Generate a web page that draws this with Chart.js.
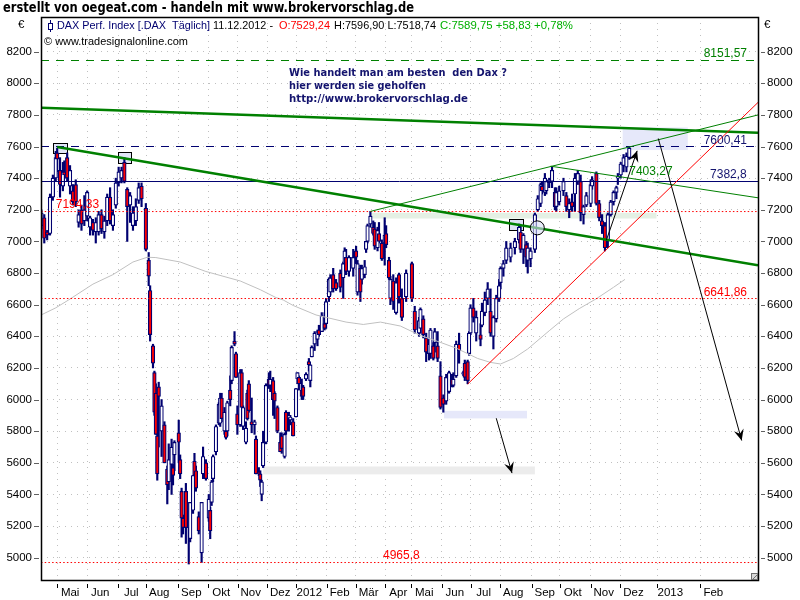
<!DOCTYPE html>
<html>
<head>
<meta charset="utf-8">
<title>DAX Perf. Index</title>
<script src="https://cdn.jsdelivr.net/npm/chart.js@4/dist/chart.umd.min.js"></script>
<style>
  body { margin: 0; background: #fff; }
  canvas { display: block; }
</style>
</head>
<body>
<canvas id="myChart" width="800" height="600"></canvas>
<script>
// tick labels
const monthDays = [11, 32, 53.7, 73.3, 95.7, 116.6, 137.2, 157.9, 178.2, 199.4, 219.7, 240.4, 258.6, 279.9, 300.1, 320.8, 342.8, 362.4, 384, 404.8, 430.6, 460.7];
const monthNames = ['Mai', 'Jun', 'Jul', 'Aug', 'Sep', 'Okt', 'Nov', 'Dez', '2012', 'Feb', 'Mär', 'Apr', 'Mai', 'Jun', 'Jul', 'Aug', 'Sep', 'Okt', 'Nov', 'Dez', '2013', 'Feb'];
const priceTicks = [5000, 5200, 5400, 5600, 5800, 6000, 6200, 6400, 6600, 6800, 7000, 7200, 7400, 7600, 7800, 8000, 8200];

// candles (day = trading day counted from the left edge)
const days = [
  0,2,4,6,8,10,11,13,15,16,
  18,20,22,24,26,28,30,32,34,36,
  38,40,42,44,46,48,50,52,54,56,
  58,60,62,64,66,68,70,73,75,76,
  78,79,80,81,82,84,86,88,89,91,
  92,93,96,97,98,99,101,103,104,106,
  107,108,110,112,113,115,117,118,119,120,
  122,124,125,126,128,129,130,132,133,135,
  136,137,139,140,141,143,144,145,147,149,
  150,152,153,154,155,157,159,160,162,163,
  165,167,168,170,171,173,174,176,178,179,
  180,182,183,185,187,188,189,191,193,194,
  196,198,199,201,202,204,206,209,211,212,
  213,215,218,220,221,223,224,226,227,228,
  230,232,233,235,236,238,240,241,243,244,
  246,248,250,252,255,259,261,264,265,267,
  269,271,272,274,275,277,279,281,283,285,
  287,288,290,292,295,296,298,299,300,302,
  304,307,308,310,312,314,316,318,320,321,
  323,325,328,331,334,335,337,339,340,342,
  345,347,349,350,352,353,355,357,359,360,
  362,365,367,369,371,373,375,377,379,381,
  384,385,388,390,392,394,396,398,400,402,
  403,405,407,409,411
];
const opens = [
  7100,7150,7060,7050,7280,7400,7560,7450,7350,7440,
  7530,7350,7320,7360,7120,7200,7130,7160,7090,7120,
  7060,7060,7170,7060,7130,7280,7100,7230,7370,7400,
  7500,7330,7230,7100,7130,7260,7350,7210,6880,6690,
  6340,6170,6040,5770,6080,5800,5840,5560,5480,5590,
  5570,5650,5790,5620,5420,5250,5420,5080,5120,5300,
  5610,5550,5260,5030,5530,5600,5250,5300,5350,5500,
  5670,5850,5850,6010,5800,5800,5800,6060,6120,6370,
  6290,5910,5840,6170,5830,5730,6040,6100,5860,5840,
  5750,5540,5530,5400,5580,5730,6130,6090,6120,6040,
  5950,5730,5770,5640,5920,5880,5870,5860,5890,6130,
  6140,6060,6080,6130,6240,6120,6270,6350,6380,6440,
  6430,6480,6480,6650,6680,6790,6740,6800,6770,6860,
  6900,6810,6830,6940,6680,6830,6760,6790,6950,7000,
  7110,7090,7080,6960,7050,6990,6990,7050,6880,6640,
  6750,6550,6790,6640,6650,6860,6560,6420,6450,6510,
  6390,6290,6290,6340,6360,6340,6150,6010,5990,6050,
  6130,6090,6150,6350,6160,6230,6240,6290,6420,6580,
  6420,6410,6470,6550,6640,6560,6400,6510,6640,6740,
  6830,6880,6900,6960,7010,7060,6950,6980,6880,6890,
  6950,7200,7240,7350,7310,7320,7370,7380,7310,7220,
  7250,7320,7290,7200,7250,7300,7380,7380,7170,7230,
  7240,7350,7430,7240,7130,7100,7010,7170,7250,7310,
  7400,7420,7480,7470,7530
];
const highs = [
  7200,7170,7070,7300,7420,7570,7590,7530,7500,7510,
  7560,7480,7360,7390,7200,7230,7290,7320,7160,7140,
  7150,7190,7200,7160,7300,7340,7200,7400,7470,7470,
  7530,7340,7310,7220,7270,7370,7370,7240,6930,6720,
  6350,6180,6100,5790,6110,6000,5860,5580,5720,5750,
  5590,5740,5870,5650,5440,5270,5470,5190,5350,5520,
  5660,5580,5290,5350,5700,5620,5400,5320,5490,5650,
  5840,5980,6040,6040,5950,5820,5990,6150,6340,6430,
  6300,5960,6190,6190,5960,5860,6060,6120,6010,5870,
  5770,5570,5550,5490,5800,6100,6170,6180,6140,6050,
  5960,5790,5790,5790,5930,5920,5900,5880,6070,6170,
  6150,6130,6090,6170,6260,6220,6340,6430,6440,6470,
  6550,6550,6640,6770,6790,6830,6760,6820,6870,6960,
  6950,6910,6950,6970,6880,6850,6850,6880,7000,7110,
  7190,7130,7120,7090,7120,7010,7150,7100,6900,6780,
  6790,6770,6800,6700,6820,6870,6590,6520,6580,6530,
  6420,6380,6450,6360,6450,6430,6240,6030,6160,6180,
  6160,6170,6370,6420,6180,6250,6250,6430,6600,6640,
  6560,6480,6610,6680,6740,6700,6530,6660,6760,6840,
  6880,7000,6990,7020,7110,7100,7050,7000,6990,6960,
  7180,7290,7370,7380,7430,7390,7400,7470,7340,7340,
  7350,7400,7310,7270,7300,7430,7450,7420,7230,7310,
  7390,7410,7440,7260,7170,7120,7180,7260,7320,7350,
  7430,7500,7550,7560,7597
];
const lows = [
  7080,6990,7010,7040,7260,7380,7440,7280,7320,7400,
  7380,7300,7230,7220,7090,7070,7100,7130,7040,7040,
  6990,7040,7050,7020,7100,7110,7070,7210,7350,7370,
  7370,7000,7120,7070,7100,7240,7220,6940,6720,6370,
  6200,5900,5780,5490,5700,5640,5600,5340,5430,5400,
  5460,5550,5600,5500,5130,5150,5090,4960,5100,5280,
  5510,5420,5150,4970,5500,5490,5230,5120,5330,5480,
  5650,5840,5830,5860,5780,5750,5770,5960,6100,6340,
  6140,5780,5830,5940,5810,5720,5870,5920,5790,5780,
  5530,5520,5450,5360,5570,5720,6070,6050,5900,5880,
  5790,5670,5660,5630,5780,5800,5840,5770,5890,6100,
  6060,6000,6000,6120,6180,6080,6270,6310,6340,6400,
  6430,6440,6450,6620,6660,6680,6690,6680,6640,6830,
  6790,6780,6780,6860,6660,6620,6730,6770,6930,6990,
  7090,7040,6950,6940,6990,6880,6850,6960,6760,6600,
  6570,6540,6610,6500,6620,6620,6420,6400,6420,6390,
  6240,6250,6260,6250,6300,6240,5940,5920,5970,6040,
  6080,6080,6140,6230,6150,6120,6100,6280,6410,6490,
  6370,6340,6460,6530,6600,6400,6320,6490,6620,6700,
  6780,6860,6870,6920,6990,6930,6860,6840,6800,6840,
  6930,7190,7220,7300,7290,7300,7340,7340,7200,7190,
  7230,7290,7190,7150,7190,7190,7360,7130,7110,7220,
  7220,7330,7230,7130,7050,6940,6960,7160,7230,7270,
  7360,7400,7440,7440,7519
];
const closes = [
  7180,7020,7040,7280,7400,7530,7520,7360,7440,7420,
  7400,7450,7250,7250,7170,7110,7200,7310,7150,7070,
  7120,7170,7080,7130,7280,7130,7170,7370,7440,7450,
  7380,7220,7290,7180,7220,7340,7270,6950,6780,6410,
  6230,5920,5780,5530,6020,5960,5600,5460,5620,5700,
  5520,5730,5730,5530,5250,5190,5190,5080,5350,5520,
  5520,5440,5170,5350,5640,5500,5370,5170,5480,5640,
  5830,5970,6010,5880,5920,5760,5980,6000,6330,6350,
  6140,5840,6170,5950,5950,5820,5880,5930,5840,5860,
  5530,5530,5490,5480,5730,6090,6090,6130,6000,5990,
  5800,5670,5690,5780,5800,5900,5890,5770,6070,6170,
  6100,6020,6020,6160,6220,6220,6330,6420,6430,6410,
  6530,6450,6620,6760,6770,6700,6700,6710,6860,6940,
  6810,6900,6900,6900,6860,6680,6830,6840,7000,7100,
  7160,7050,6970,7070,7000,6890,7040,6980,6770,6760,
  6620,6740,6650,6520,6800,6640,6440,6500,6570,6410,
  6300,6350,6440,6260,6430,6260,5950,5970,6140,6170,
  6090,6130,6350,6310,6170,6140,6120,6420,6580,6520,
  6520,6380,6560,6630,6700,6420,6520,6640,6720,6830,
  6860,6960,6960,7000,7090,6950,7040,6900,6960,6940,
  7170,7270,7360,7320,7400,7380,7390,7450,7220,7310,
  7320,7380,7220,7240,7220,7400,7430,7180,7220,7290,
  7360,7390,7240,7150,7100,6960,7170,7250,7310,7340,
  7410,7490,7530,7540,7590
];

// grey moving average
const maDays = [0, 10, 19, 36, 50, 64, 74, 80, 97, 115, 139, 153, 164, 169, 176, 192, 213, 225, 237, 251, 265, 278, 290, 305, 314, 321, 330, 340, 355, 365, 376, 388, 400, 408];
const maValues = [6536, 6580, 6630, 6730, 6790, 6870, 6900, 6898, 6870, 6810, 6750, 6695, 6645, 6630, 6595, 6535, 6490, 6475, 6490, 6465, 6405, 6365, 6325, 6260, 6235, 6225, 6260, 6320, 6435, 6510, 6575, 6638, 6710, 6760];

// trend lines: [day, price, day, price]
const thickGreen = [[0, 7846, 501, 7688], [11, 7597, 501, 6850]];
const thinGreen = [[230, 7190, 501, 7800], [356, 7476, 501, 7276]];
const thinRed = [[298, 6098, 501, 7879]];
const arrows = [[395, 7008, 416.5, 7573], [431.3, 7651, 489.6, 5741], [318, 5882, 329, 5535]];

// horizontal levels
const greenDashed = 8144.3;
const navyDashed = 7600.4;
const navySolid = 7379;
const redDotted = [7189, 6639.1, 4969.5];

// shaded zones: [day from, day to, price top, price bottom]
const blueZones = [[406.4, 451.9, 7721, 7578], [281.5, 339.5, 5929, 5881]];
const greyZones = [[155, 345, 5577, 5527]];
const greenZones = [[230, 430, 7181, 7145]];
const markerBoxes = [[8.3, 18.3, 7620, 7555], [53.7, 63, 7563, 7493], [327, 337, 7139, 7071]];
const markerCircle = [{ x: 346.7, y: 7086 }];

// value labels: [text, day, price, colour]
const valueLabels = [
  ['7194,33', 10, 7230, '#ff0000'],
  ['8151,57', 463, 8185, '#008000'],
  ['7600,41', 463, 7635, '#14146e'],
  ['7382,8', 467.5, 7420, '#14146e'],
  ['7403,27', 411, 7438, '#008000'],
  ['6641,86', 463, 6679, '#ff0000'],
  ['4965,8', 238.8, 5012, '#ff0000']
];

const navy = '#000070';
const tickFont = { family: 'Liberation Sans', size: 11.5 };

function segment(s) {
  return [{ x: s[0], y: s[1] }, { x: s[2], y: s[3] }];
}
function level(v) {
  return [{ x: -0.3, y: v }, { x: 501, y: v }];
}
function lineSet(points, color, width, dash, order) {
  return { type: 'line', data: points, borderColor: color, borderWidth: width, borderDash: dash || [], pointRadius: 0, order: order, borderCapStyle: 'butt' };
}

const datasets = [];
// low order draws last, so the lines sit over the candles
thickGreen.forEach(s => datasets.push(lineSet(segment(s), '#008000', 2.5, [], 3)));
thinGreen.forEach(s => datasets.push(lineSet(segment(s), '#008000', 1, [], 2)));
thinRed.forEach(s => datasets.push(lineSet(segment(s), '#ff0000', 1, [], 2)));
arrows.forEach(s => datasets.push(lineSet(segment(s), '#000000', 1, [], 1)));
datasets.push(lineSet(level(greenDashed), '#008000', 1, [8, 7], 4));
datasets.push(lineSet(level(navyDashed), navy, 1, [8, 7], 4));
datasets.push(lineSet(level(navySolid), navy, 1, [], 4));
redDotted.forEach(v => datasets.push(lineSet(level(v), '#ff0000', 1, [1.5, 2.2], 4)));
datasets.push(lineSet(maDays.map((d, i) => ({ x: d, y: maValues[i] })), '#c0c0c0', 1, [], 5));
datasets.push({
  type: 'line', data: markerCircle, showLine: false, pointRadius: 7, pointBorderWidth: 1,
  pointBackgroundColor: 'rgba(215,220,245,0.6)', pointBorderColor: '#000000', order: 1
});

// candle bodies over wicks
datasets.push({
  label: 'bodies',
  data: days.map((d, i) => ({ x: d, y: [opens[i], closes[i]] })),
  backgroundColor: days.map((d, i) => closes[i] < opens[i] ? '#ff0000' : '#ffffff'),
  borderColor: navy, borderWidth: 1.2, borderSkipped: false, barThickness: 3.6, grouped: false, order: 6
});
datasets.push({
  label: 'wicks',
  data: days.map((d, i) => ({ x: d, y: [lows[i], highs[i]] })),
  backgroundColor: navy, borderWidth: 0, barThickness: 1.5, grouped: false, order: 7
});

function fillZones(chart, zones, color, stroke) {
  const { ctx, scales } = chart;
  zones.forEach(z => {
    const x0 = scales.x.getPixelForValue(z[0]);
    const x1 = scales.x.getPixelForValue(z[1]);
    const y0 = scales.y.getPixelForValue(z[2]);
    const y1 = scales.y.getPixelForValue(z[3]);
    ctx.fillStyle = color;
    ctx.fillRect(x0, y0, x1 - x0, y1 - y0);
    if (stroke) {
      ctx.strokeStyle = stroke;
      ctx.lineWidth = 1;
      ctx.strokeRect(Math.round(x0) + 0.5, Math.round(y0) + 0.5, Math.round(x1 - x0), Math.round(y1 - y0));
    }
  });
}

function putText(ctx, str, x, y, font, color, maxW) {
  ctx.font = font;
  ctx.fillStyle = color;
  ctx.textAlign = 'left';
  ctx.textBaseline = 'middle';
  if (maxW) ctx.fillText(str, x, y, maxW);
  else ctx.fillText(str, x, y);
}

const decorations = {
  id: 'decorations',
  beforeDatasetsDraw(chart) {
    fillZones(chart, greyZones, '#ececec');
    fillZones(chart, greenZones, '#e4f0e4');
    fillZones(chart, blueZones, '#e6e8fa');
    fillZones(chart, markerBoxes, '#e0e4f6', '#000000');
  },
  afterDatasetsDraw(chart) {
    const { ctx, scales, chartArea: a } = chart;

    // arrow heads
    arrows.forEach(s => {
      const x0 = scales.x.getPixelForValue(s[0]);
      const y0 = scales.y.getPixelForValue(s[1]);
      const x1 = scales.x.getPixelForValue(s[2]);
      const y1 = scales.y.getPixelForValue(s[3]);
      const ang = Math.atan2(y1 - y0, x1 - x0);
      ctx.save();
      ctx.translate(x1, y1);
      ctx.rotate(ang);
      ctx.fillStyle = '#000000';
      ctx.beginPath();
      ctx.moveTo(0, 0);
      ctx.lineTo(-11, -5);
      ctx.lineTo(-7, 0);
      ctx.lineTo(-11, 5);
      ctx.closePath();
      ctx.fill();
      ctx.restore();
    });

    // frame, sits a little apart from the tick marks
    ctx.strokeStyle = '#000000';
    ctx.lineWidth = 1.5;
    ctx.strokeRect(a.left + 0.5, a.top + 0.5, a.right - a.left, a.bottom - a.top);
    ctx.lineWidth = 1;
    ctx.strokeStyle = '#606060';
    ctx.beginPath();
    scales.y.ticks.forEach(t => {
      const py = Math.round(scales.y.getPixelForValue(t.value)) + 0.5;
      ctx.moveTo(34, py); ctx.lineTo(39, py);
      ctx.moveTo(761, py); ctx.lineTo(765, py);
    });
    ctx.stroke();
    ctx.strokeStyle = '#000000';
    ctx.beginPath();
    scales.x.ticks.forEach(t => {
      const px = Math.round(scales.x.getPixelForValue(t.value)) + 0.5;
      ctx.moveTo(px, 584); ctx.lineTo(px, 588);
    });
    ctx.stroke();

    // little resize corner
    ctx.fillStyle = '#d8d8d8';
    ctx.fillRect(752, 574, 6, 6);
    ctx.strokeStyle = '#707070';
    ctx.strokeRect(751.5, 573.5, 6, 6);
    ctx.beginPath();
    ctx.moveTo(752, 580); ctx.lineTo(758, 574);
    ctx.stroke();

    // candle icon of the header
    ctx.strokeStyle = navy;
    ctx.beginPath();
    ctx.moveTo(50.5, 20); ctx.lineTo(50.5, 32);
    ctx.stroke();
    ctx.fillStyle = '#ffffff';
    ctx.fillRect(48, 23, 5, 6);
    ctx.strokeRect(48.5, 23.5, 4, 6);

    const f = '11.5px "Liberation Sans"';
    putText(ctx, 'erstellt von oegeat.com - handeln mit www.brokervorschlag.de', 3, 8.5, 'bold 13.5px "DejaVu Sans"', '#000000', 411);
    putText(ctx, '€', 18, 25, f, '#000000');
    putText(ctx, '€', 764, 25, f, '#000000');
    putText(ctx, 'DAX Perf. Index [.DAX  Täglich]', 57, 26, f, navy, 153);
    putText(ctx, '11.12.2012 -', 213, 26, f, '#000000', 60);
    putText(ctx, 'O:7529,24', 279, 26, f, '#ff0000', 51);
    putText(ctx, 'H:7596,90 L:7518,74', 334, 26, f, '#000000', 102);
    putText(ctx, 'C:7589,75 +58,83 +0,78%', 440, 26, f, '#00b000', 133);
    putText(ctx, '© www.tradesignalonline.com', 44, 42, f, '#000000', 144);
    const note = 'bold 11px "DejaVu Sans"';
    putText(ctx, 'Wie handelt man am besten  den Dax ?', 289, 73, note, '#14146e', 218);
    putText(ctx, 'hier werden sie geholfen', 289, 86, note, '#14146e', 137);
    putText(ctx, 'http://www.brokervorschlag.de', 289, 99, note, '#14146e', 179);

    valueLabels.forEach(l => {
      putText(ctx, l[0], scales.x.getPixelForValue(l[1]), scales.y.getPixelForValue(l[2]), '12px "Liberation Sans"', l[3]);
    });
  }
};

const priceAxis = {
  type: 'linear',
  min: 4859,
  max: 8419.4,
  afterBuildTicks(axis) { axis.ticks = priceTicks.map(v => ({ value: v })); },
  ticks: { color: '#000000', font: tickFont, padding: 9, callback: v => String(v) }
};

const myChart = new Chart(document.getElementById('myChart'), {
  type: 'bar',
  data: { datasets: datasets },
  options: {
    responsive: false,
    animation: false,
    layout: { padding: { top: 17 } },
    plugins: { legend: { display: false }, tooltip: { enabled: false } },
    scales: {
      x: {
        type: 'linear',
        offset: false,
        min: -0.3,
        max: 501,
        afterBuildTicks(axis) { axis.ticks = monthDays.map(v => ({ value: v })); },
        afterFit(axis) { axis.height = 20; },
        grid: { color: '#c0c0c0', offset: false, drawTicks: false, tickLength: 0 },
        border: { display: false, dash: [1, 5] },
        ticks: {
          color: '#000000', font: tickFont, padding: 6, labelOffset: 13, autoSkip: false, maxRotation: 0,
          callback: v => monthNames[monthDays.indexOf(v)]
        }
      },
      y: Object.assign({}, priceAxis, {
        position: 'left',
        afterFit(axis) { axis.width = 41; },
        grid: { color: '#c0c0c0', drawTicks: false, tickLength: 0 },
        border: { display: false, dash: [1, 5] }
      }),
      y2: Object.assign({}, priceAxis, {
        position: 'right',
        afterFit(axis) { axis.width = 42; },
        grid: { display: false, drawTicks: false, tickLength: 0 },
        border: { display: false }
      })
    }
  },
  plugins: [decorations]
});
</script>
</body>
</html>
